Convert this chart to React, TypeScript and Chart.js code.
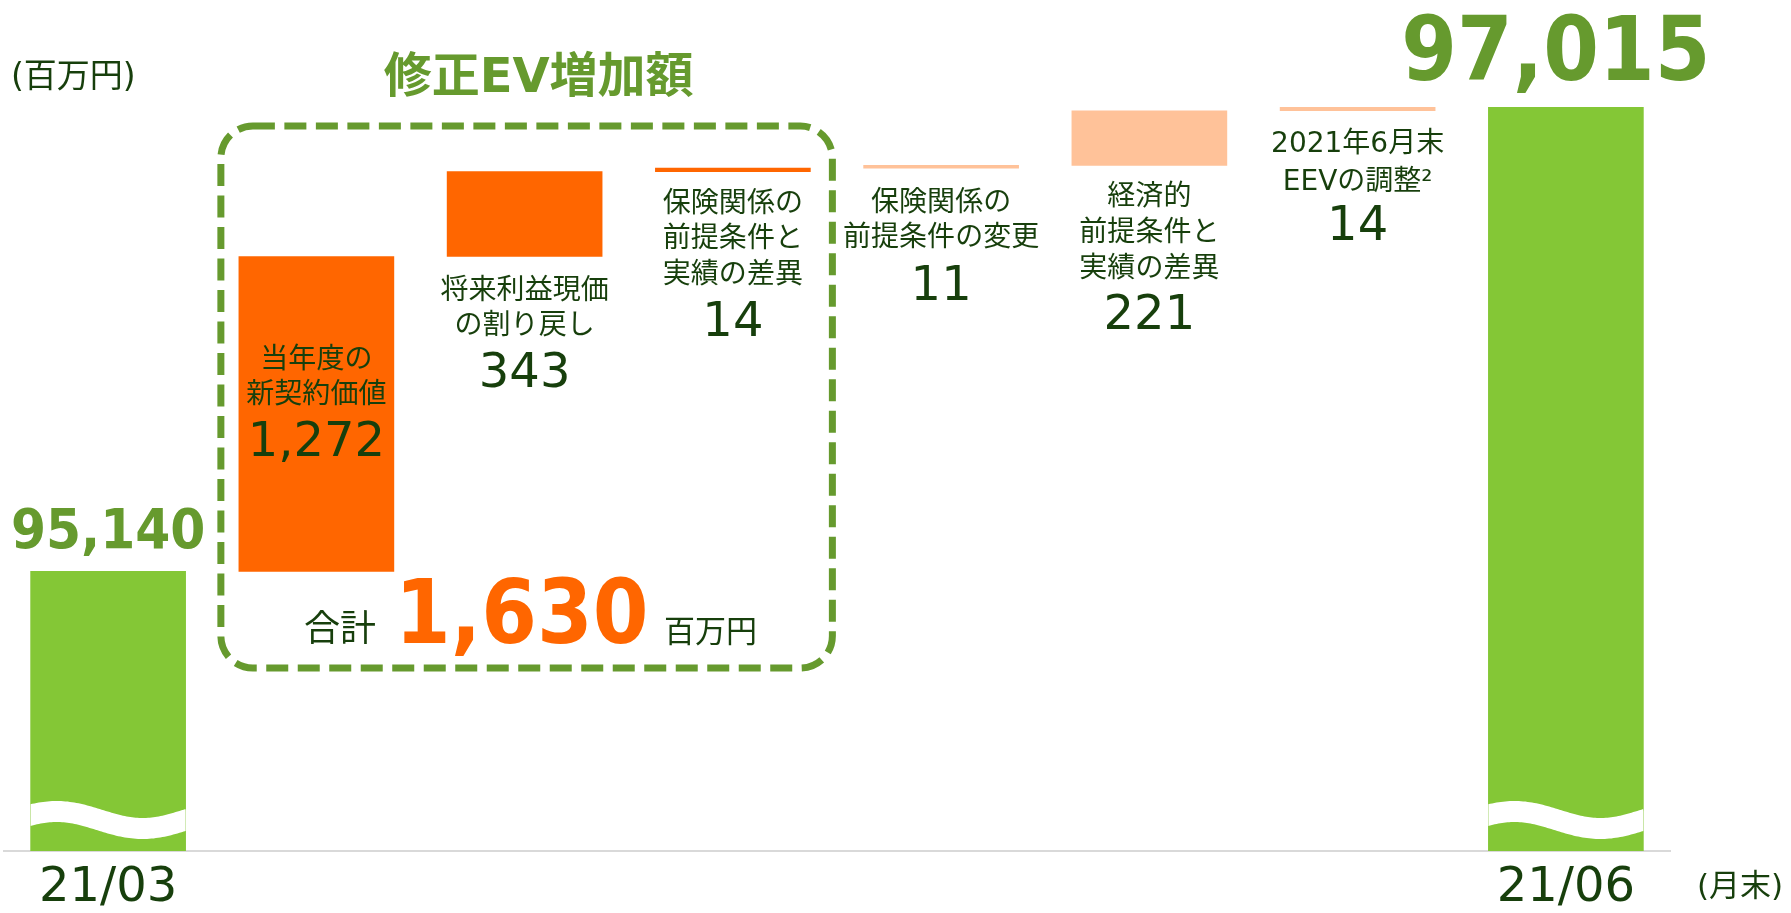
import React, { useEffect, useRef } from 'react';
import { Chart, registerables } from 'chart.js';

Chart.register(...registerables);

// ---------- data ----------
const categories = [
  '21/03',
  '当年度の新契約価値',
  '将来利益現価の割り戻し',
  '保険関係の前提条件と実績の差異',
  '保険関係の前提条件の変更',
  '経済的前提条件と実績の差異',
  '2021年6月末EEVの調整',
  '21/06',
];
const tickLabels = ['21/03', '', '', '', '', '', '', '21/06'];
const openingEV = 95140;
const closingEV = 97015;
const changes = [1272, 343, 14, 11, 221, 14];
const changeLabels = [
  ['当年度の', '新契約価値'],
  ['将来利益現価', 'の割り戻し'],
  ['保険関係の', '前提条件と', '実績の差異'],
  ['保険関係の', '前提条件の変更'],
  ['経済的', '前提条件と', '実績の差異'],
  ['2021年6月末', 'EEVの調整²'],
];
const totalChange = 1630;
const titleText = '修正EV増加額';
const unitText = '(百万円)';
const periodText = '(月末)';
const totalPrefix = '合計';
const totalUnit = '百万円';
const axisMin = 94010;
const axisMax = 97400;

// ---------- style ----------
const GREEN_BAR = '#84c736';
const GREEN_TEXT = '#669a2e';
const ORANGE = '#ff6600';
const PEACH = '#ffc299';
const DARK = '#173f0c';
const barColors = [GREEN_BAR, ORANGE, ORANGE, ORANGE, PEACH, PEACH, PEACH, GREEN_BAR];
const labelAnchor = ['top', 'bottom', 'bottom', 'bottom', 'bottom', 'bottom'];
const labelOffset = [100, 31, 29, 32, 28, 30];
const lineGap = [35, 35, 35.5, 35, 36, 38];
const valueGap = [47, 47, 47, 47, 46, 44];
const CANVAS_W = 1791;
const CANVAS_H = 927; // view is 913 tall; extra space compensates for axis label box

const fmt = (v: number) => v.toLocaleString('en-US');

function buildFloating(): [number, number][] {
  const out: [number, number][] = [[axisMin, openingEV]];
  let run = openingEV;
  for (const c of changes) {
    out.push([run, run + c]);
    run += c;
  }
  out.push([axisMin, closingEV]);
  return out;
}

const CJK = '"DejaVu Sans", "Noto Sans CJK JP", sans-serif';
const JP = '"Noto Sans CJK JP", sans-serif';

function drawCondensed(ctx: CanvasRenderingContext2D, text: string, x: number, y: number, align: CanvasTextAlign, size: number, color: string) {
  ctx.save();
  ctx.translate(x, y);
  ctx.scale(0.9, 1);
  ctx.font = `bold ${size}px "DejaVu Sans", sans-serif`;
  ctx.fillStyle = color;
  ctx.textAlign = align;
  ctx.textBaseline = 'alphabetic';
  ctx.fillText(text, 0, 0);
  ctx.restore();
}

const overlayPlugin = {
  id: 'evOverlay',
  afterDatasetsDraw(chart: any) {
    const ctx: CanvasRenderingContext2D = chart.ctx;
    const meta = chart.getDatasetMeta(0);
    const area = chart.chartArea;
    const els = meta.data as any[];

    // axis-break waves on the two full bars
    [0, els.length - 1].forEach((i) => {
      const el = els[i];
      const left = el.x - el.width / 2;
      const right = el.x + el.width / 2;
      const cy = area.bottom - 31;
      ctx.save();
      ctx.beginPath();
      ctx.rect(left, area.top, right - left, area.bottom - area.top);
      ctx.clip();
      ctx.beginPath();
      for (let x = left - 4; x <= right + 4; x += 2) {
        const y = cy - 8.5 * Math.cos((2 * Math.PI * (x - left - 26)) / 172);
        if (x === left - 4) ctx.moveTo(x, y);
        else ctx.lineTo(x, y);
      }
      ctx.strokeStyle = '#ffffff';
      ctx.lineWidth = 21;
      ctx.stroke();
      ctx.restore();
    });

    // labels of change bars
    changeLabels.forEach((lines, k) => {
      const el = els[k + 1];
      const top = Math.min(el.y, el.base);
      const bottom = Math.max(el.y, el.base);
      const y0 = (labelAnchor[k] === 'top' ? top : bottom) + labelOffset[k];
      ctx.save();
      ctx.fillStyle = DARK;
      ctx.textAlign = 'center';
      ctx.textBaseline = 'middle';
      ctx.font = `28px ${CJK}`;
      lines.forEach((ln, j) => {
        ctx.fillText(ln, el.x, y0 + j * lineGap[k] + 4);
      });
      const vc = y0 + (lines.length - 1) * lineGap[k] + valueGap[k];
      ctx.font = '48px "DejaVu Sans", sans-serif';
      ctx.textBaseline = 'alphabetic';
      ctx.fillText(fmt(changes[k]), el.x, vc + 17.5);
      ctx.restore();
    });

    // big end values
    const first = els[0];
    const last = els[els.length - 1];
    drawCondensed(ctx, fmt(openingEV), first.x, Math.min(first.y, first.base) - 23, 'center', 56, GREEN_TEXT);
    drawCondensed(ctx, fmt(closingEV), last.x - 10, Math.min(last.y, last.base) - 27, 'center', 89, GREEN_TEXT);

    // dashed box around the revised EV increase
    const b1 = els[1];
    const b3 = els[3];
    const bx0 = b1.x - b1.width / 2 - 18;
    const bx1 = b3.x + b3.width / 2 + 22;
    const by0 = 126;
    const by1 = 668;
    ctx.save();
    ctx.strokeStyle = GREEN_TEXT;
    ctx.lineWidth = 7;
    ctx.setLineDash([22, 9.5]);
    ctx.beginPath();
    (ctx as any).roundRect(bx0, by0, bx1 - bx0, by1 - by0, 32);
    ctx.stroke();
    ctx.restore();

    // total inside box
    ctx.save();
    ctx.fillStyle = DARK;
    ctx.textAlign = 'left';
    ctx.textBaseline = 'middle';
    ctx.font = `36px ${JP}`;
    ctx.fillText(totalPrefix, 304, 627);
    ctx.font = `31px ${JP}`;
    ctx.fillText(totalUnit, 664, 630);
    ctx.restore();
    drawCondensed(ctx, fmt(totalChange), 395, 643, 'left', 89, ORANGE);

    // title & units
    ctx.save();
    ctx.fillStyle = GREEN_TEXT;
    ctx.textAlign = 'center';
    ctx.textBaseline = 'middle';
    ctx.font = `bold 48px ${CJK}`;
    ctx.fillText(titleText, (bx0 + bx1) / 2 + 12, 80);
    ctx.fillStyle = DARK;
    ctx.textAlign = 'left';
    ctx.font = `33px ${CJK}`;
    ctx.fillText(unitText, 11, 78);
    ctx.font = `31px ${CJK}`;
    ctx.fillText(periodText, 1697, 888);
    ctx.restore();
  },
};

export default function App() {
  const ref = useRef<HTMLCanvasElement>(null);
  useEffect(() => {
    if (!ref.current) return;
    const chart = new Chart(ref.current, {
      type: 'bar',
      data: {
        labels: categories,
        datasets: [
          {
            data: buildFloating() as any,
            backgroundColor: barColors,
            borderWidth: 0,
            barThickness: 155,
            borderSkipped: false,
          },
        ],
      },
      options: {
        responsive: false,
        animation: false,
        devicePixelRatio: 1,
        layout: { padding: { left: 4, right: 121, top: 12, bottom: 0 } },
        plugins: {
          legend: { display: false },
          tooltip: { enabled: false },
          title: { display: false },
        },
        scales: {
          x: {
            grid: { display: false, drawTicks: false },
            border: { display: true, color: '#d9d9d9', width: 2 },
            ticks: {
              autoSkip: false,
              maxRotation: 0,
              padding: 14,
              color: DARK,
              font: { family: '"DejaVu Sans", sans-serif', size: 48, lineHeight: 1 },
              callback: (_v: any, i: number) => tickLabels[i],
            },
          },
          y: {
            display: false,
            min: axisMin,
            max: axisMax,
          },
        },
      },
      plugins: [overlayPlugin],
    });
    return () => chart.destroy();
  }, []);
  return (
    <div style={{ position: 'absolute', left: 0, top: 0, width: CANVAS_W, height: 913, overflow: 'hidden', background: '#fff' }}>
      <canvas ref={ref} width={CANVAS_W} height={CANVAS_H} style={{ display: 'block' }} />
    </div>
  );
}
